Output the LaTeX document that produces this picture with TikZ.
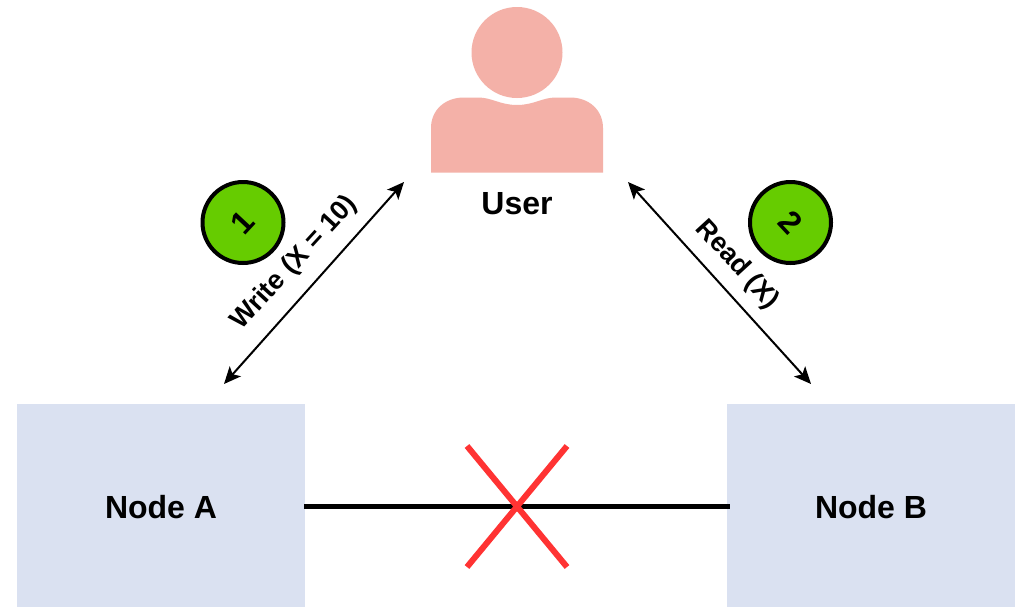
\documentclass[tikz,border=0pt]{standalone}
\usepackage{fontspec}
\setmainfont{Liberation Sans}
\usetikzlibrary{arrows.meta,calc}
\definecolor{boxblue}{HTML}{DAE1F1}
\definecolor{userpink}{HTML}{F4B1A8}
\definecolor{stepgreen}{HTML}{66CC00}
\definecolor{crossred}{HTML}{FF3333}
\tikzset{
  x=1pt,y=-1pt,
  serverbox/.style={fill=boxblue,draw=none,minimum width=288pt,minimum height=203pt,inner sep=0pt,font=\fontsize{32}{36}\selectfont\bfseries},
  badge/.style={circle,fill=stepgreen,draw=black,line width=4pt,minimum size=81pt,inner sep=0pt,font=\fontsize{32}{36}\selectfont\bfseries},
  dbl/.style={line width=2pt,{Stealth[length=17pt,width=15pt,inset=4pt]}-{Stealth[length=17pt,width=15pt,inset=4pt]}},
  edgetext/.style={inner sep=0pt,font=\fontsize{27}{30}\selectfont\bfseries},
  labeltext/.style={inner sep=0pt,font=\fontsize{32}{36}\selectfont\bfseries},
  crossline/.style={crossred,line width=6pt},
}
\begin{document}
\begin{tikzpicture}
\useasboundingbox (0,0) rectangle (1035,608);
\fill[white] (0,0) rectangle (1035,608);
% nodes
\node[serverbox] (nodeA) at (161,505.5) {};
\node[serverbox] (nodeB) at (871,505.5) {};
\node[labeltext] (labelA) at (161,507) {Node A};
\node[labeltext] (labelB) at (871,507) {Node B};
% user icon
\fill[userpink] (517,52.5) circle[radius=45.5];
\fill[userpink] (431,172.5) -- (431,128)
  .. controls (431,110) and (445,97.5) .. (464,97.5)
  -- (478,97.5)
  .. controls (492,97.5) and (500,105) .. (517,105)
  .. controls (534,105) and (542,97.5) .. (556,97.5)
  -- (570,97.5)
  .. controls (589,97.5) and (603,110) .. (603,128)
  -- (603,172.5) -- cycle;
\node[labeltext] (user) at (517,203.5) {User};
% link
\coordinate (linkA) at (304,506.5);
\coordinate (linkB) at (730,506.5);
\draw[black,line width=4.5pt] (linkA) -- (linkB);
\coordinate (c1) at (467,446); \coordinate (c2) at (567,567);
\coordinate (c3) at (567,446); \coordinate (c4) at (467,567);
\draw[crossline] (c1) -- (c2);
\draw[crossline] (c3) -- (c4);
% arrows
\coordinate (wa) at (224,384); \coordinate (wu) at (404,182);
\coordinate (ru) at (628,182); \coordinate (rb) at (811,384);
\draw[dbl] (wa) -- (wu);
\draw[dbl] (ru) -- (rb);
\node[edgetext,rotate=47.5] (writeL) at (294.5,263) {Write (X = 10)};
\node[edgetext,rotate=-47.5] (readL) at (737,265) {Read (X)};
% badges
\node[badge] (b1) at (243,222.5) {\rotatebox{47}{1}};
\node[badge] (b2) at (790.5,222.5) {\rotatebox{-47}{2}};
\end{tikzpicture}
\end{document}
